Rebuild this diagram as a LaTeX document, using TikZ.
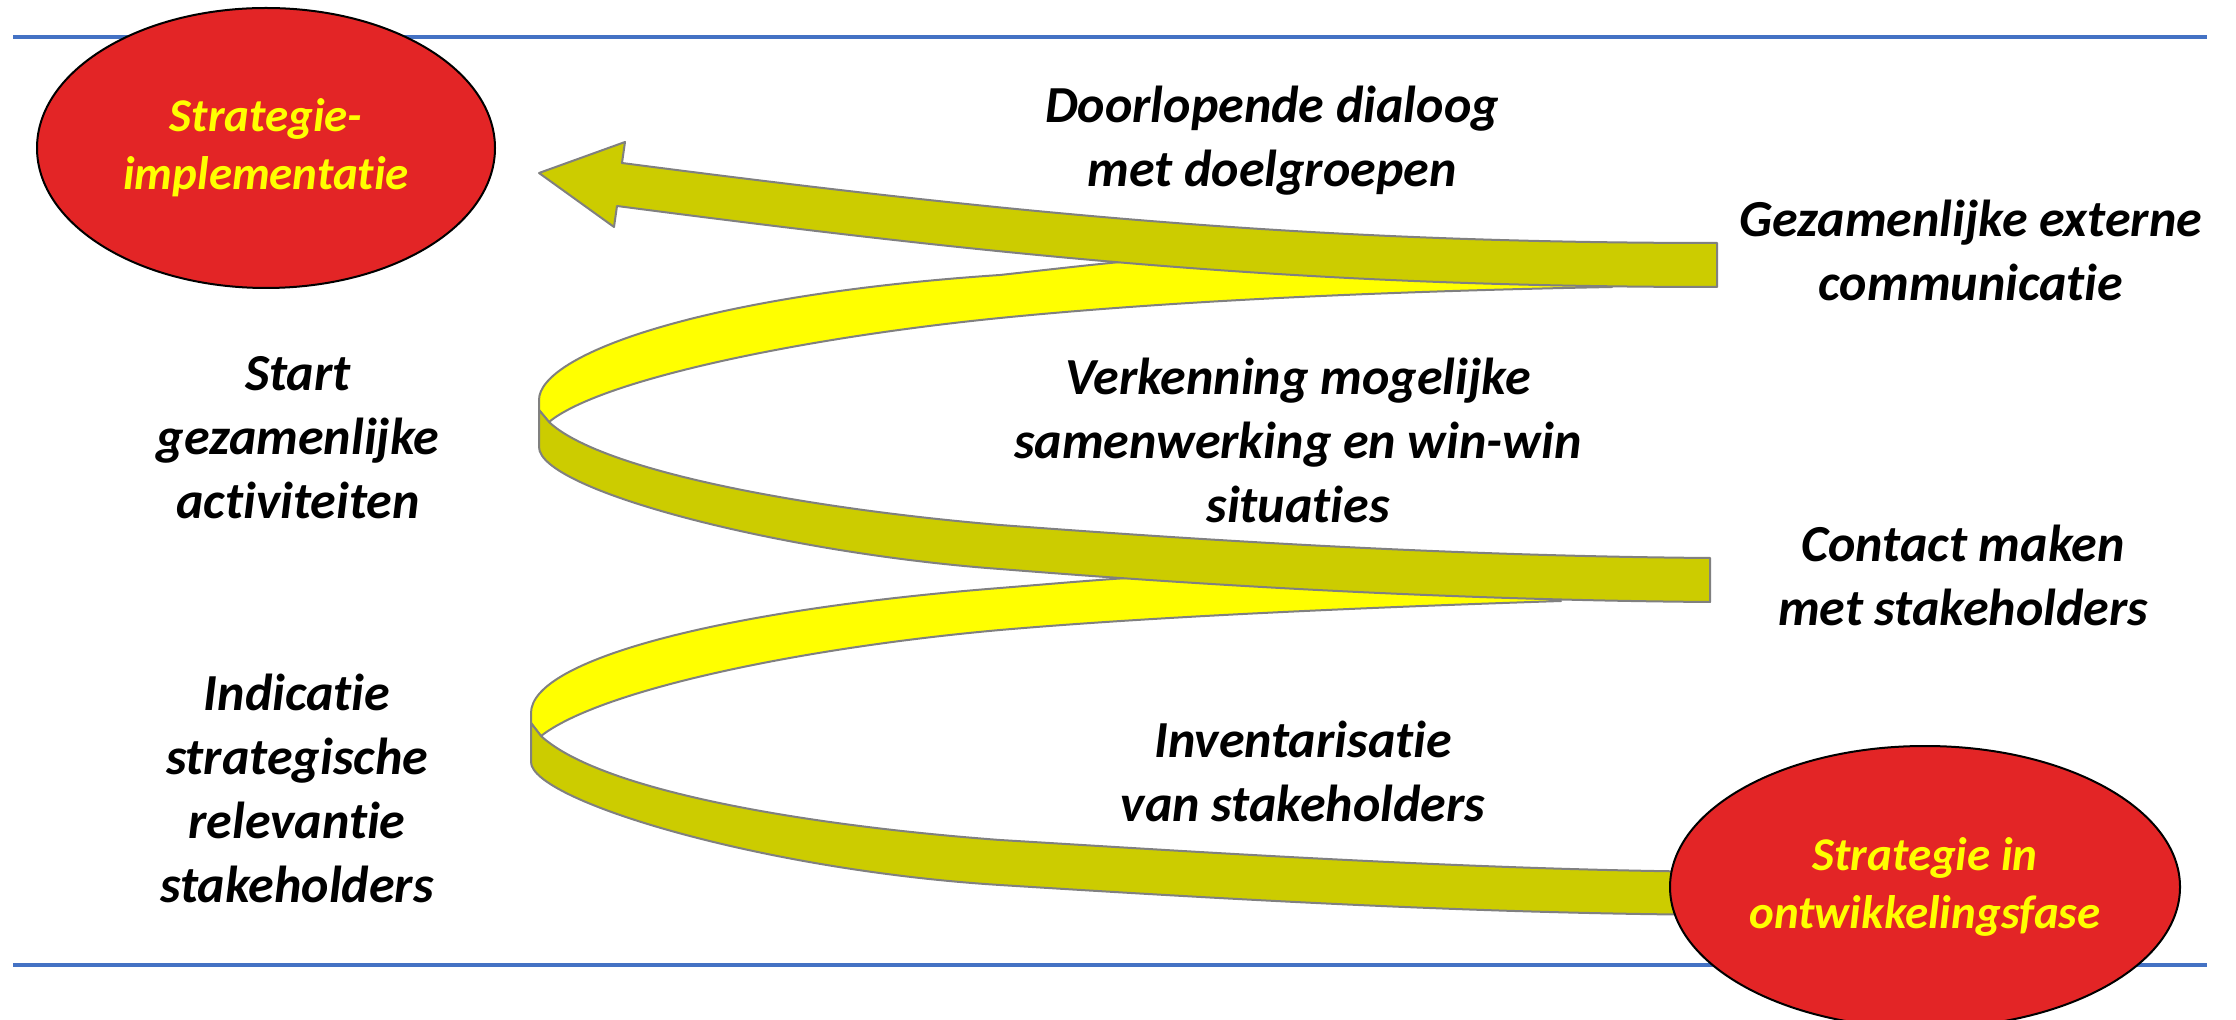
\documentclass[tikz,border=0pt]{standalone}
\usepackage{fontspec}
\setmainfont{Carlito}[Ligatures=NoCommon]
\usetikzlibrary{shapes.geometric}
\definecolor{ribdark}{HTML}{CCCC00}
\definecolor{ribbright}{HTML}{FFFF00}
\definecolor{ribedge}{HTML}{808080}
\definecolor{ovalred}{HTML}{E32526}
\definecolor{lineblue}{HTML}{4472C4}
\begin{document}
\begin{tikzpicture}[x=0.5pt,y=-0.5pt,
  lbl/.style={font=\fontsize{26}{32}\selectfont\bfseries\itshape, align=center, inner sep=0pt},
  ovl/.style={ellipse, draw=black, line width=1pt, fill=ovalred, inner sep=0pt, text=ribbright, align=center, font=\fontsize{23.5}{29}\selectfont\bfseries\itshape},
  dark/.style={fill=ribdark, draw=ribedge, line width=1pt, line join=round},
  bright/.style={fill=ribbright, draw=ribedge, line width=1pt, line join=round},
  rulestyle/.style={draw=lineblue, line width=2.4pt}]
\useasboundingbox (0,0) rectangle (2236,1020);
% horizontal rules
\coordinate (tl) at (13,37);
\coordinate (tr) at (2207,37);
\coordinate (bl) at (13,965);
\coordinate (br) at (2207,965);
\draw[rulestyle] (tl) -- (tr);
\draw[rulestyle] (bl) -- (br);
% lower loop, inner side
\path[bright] (531,713) .. controls (531,660) and (720,610) .. (1000,588)
  .. controls (1100,580) and (1250,565) .. (1400,575) -- (1561,601)
  .. controls (1350,608) and (1150,617) .. (1000,630)
  .. controls (800,648) and (600,690) .. (541,736) -- (531,723) -- cycle;
% lower band, outer side
\path[dark] (531,723) -- (531,762) .. controls (531,800) and (760,870) .. (1000,885)
  .. controls (1240,900) and (1500,915) .. (1760,915) -- (1760,872)
  .. controls (1500,872) and (1200,852) .. (1000,840)
  .. controls (800,825) and (600,790) .. (541,736) -- cycle;
% middle loop, inner side
\path[bright] (539,400) .. controls (539,355) and (700,295) .. (1000,275)
  .. controls (1100,264) and (1250,245) .. (1400,250) -- (1612,287)
  .. controls (1350,292) and (1150,303) .. (1000,318)
  .. controls (800,338) and (600,380) .. (549,422) -- (539,410) -- cycle;
% middle band, outer side
\path[dark] (539,410) -- (539,447) .. controls (539,490) and (780,553) .. (1000,569)
  .. controls (1200,585) and (1450,600) .. (1710,602) -- (1710,558)
  .. controls (1450,556) and (1200,540) .. (1000,525)
  .. controls (800,508) and (600,470) .. (549,422) -- cycle;
% top band with arrow head
\path[dark] (539,173) -- (625,142) -- (622,163) .. controls (1000,212) and (1300,243) .. (1717,243)
  -- (1717,287) .. controls (1300,287) and (1000,256) .. (617,206) -- (614,227) -- cycle;
% ovals
\node[ovl, minimum width=229pt, minimum height=140pt] (impl) at (266,148) {Strategie-\\implementatie};
\node[ovl, minimum width=255pt, minimum height=141pt] (dev) at (1925,887) {Strategie in\\ontwikkelingsfase};
% labels
\node[lbl] (doorl) at (1272,141) {Doorlopende dialoog\\met doelgroepen};
\node[lbl] (gezext) at (1971,250) {Gezamenlijke externe\\communicatie};
\node[lbl] (start) at (298,438) {Start\\gezamenlijke\\activiteiten};
\node[lbl] (verk) at (1298,440) {Verkenning mogelijke\\samenwerking en win-win\\situaties};
\node[lbl] (contact) at (1963,575) {Contact maken\\met stakeholders};
\node[lbl] (indic) at (297,788) {Indicatie\\strategische\\relevantie\\stakeholders};
\node[lbl] (invent) at (1303,771) {Inventarisatie\\van stakeholders};
\end{tikzpicture}
\end{document}
